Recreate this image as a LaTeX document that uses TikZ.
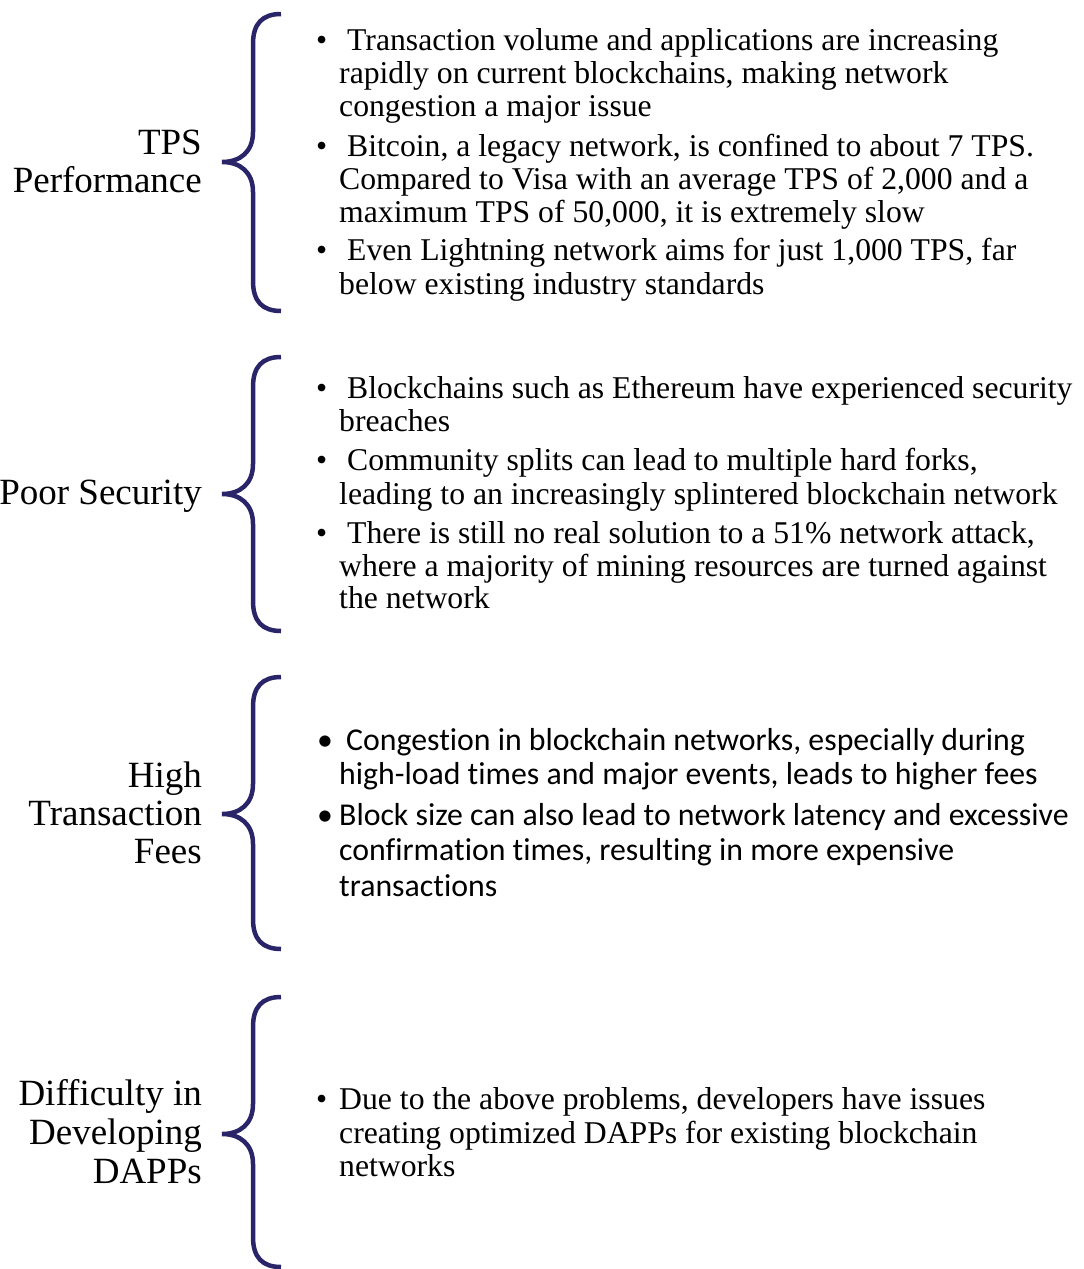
\documentclass[tikz,border=0pt]{standalone}
\usepackage{fontspec}
\setmainfont[Ligatures=NoCommon]{Liberation Serif}
\newfontfamily\carlito[Ligatures=NoCommon]{Carlito}
\definecolor{bracecol}{HTML}{2A2468}
\newcommand\cbrace[3]{%
  \draw[bracepath] (281,#1) .. controls (262,#1) and (253,#1+10) .. (253,#1+30)
    -- (253,#2-30) .. controls (253,#2-10) and (240,#2) .. (222,#2)
    .. controls (240,#2) and (253,#2+10) .. (253,#2+30)
    -- (253,#3-30) .. controls (253,#3-10) and (262,#3) .. (281,#3);}
\tikzset{
  lbl/.style={anchor=base east, inner sep=0pt, font=\fontsize{37}{38}\selectfont},
  txt/.style={anchor=base west, inner sep=0pt, font=\fontsize{31.7}{33}\selectfont},
  ctxt/.style={anchor=base west, inner sep=0pt, font=\carlito\fontsize{31.8}{35}\selectfont},
  bul/.style={anchor=base west, inner sep=0pt, font=\fontsize{31.7}{33}\selectfont},
  cbul/.style={anchor=base west, inner sep=0pt, font=\carlito\fontsize{31.8}{35}\selectfont},
  bracepath/.style={draw=bracecol, line width=4.5pt}
}
\begin{document}
\begin{tikzpicture}[x=1pt,y=-1pt]
\useasboundingbox (0,0) rectangle (1084,1269);
% ---------- Section 1 ----------
\cbrace{14}{162}{311}
\node[lbl] (l1a) at (202,154) {TPS};
\node[lbl] (l1b) at (202,192) {Performance};
\node[bul] (b11) at (316,50) {•};
\node[txt] (t11a) at (347,50) {Transaction volume and applications are increasing};
\node[txt] (t11b) at (339,83) {rapidly on current blockchains, making network};
\node[txt] (t11c) at (339,116) {congestion a major issue};
\node[bul] (b12) at (316,156) {•};
\node[txt] (t12a) at (347,156) {Bitcoin, a legacy network, is confined to about 7 TPS.};
\node[txt] (t12b) at (339,189) {Compared to Visa with an average TPS of 2,000 and a};
\node[txt] (t12c) at (339,222) {maximum TPS of 50,000, it is extremely slow};
\node[bul] (b13) at (316,260) {•};
\node[txt] (t13a) at (347,260) {Even Lightning network aims for just 1,000 TPS, far};
\node[txt] (t13b) at (339,294) {below existing industry standards};
% ---------- Section 2 ----------
\cbrace{357}{494}{631}
\node[lbl] (l2a) at (202,504) {Poor Security};
\node[bul] (b21) at (316,398) {•};
\node[txt] (t21a) at (347,398) {Blockchains such as Ethereum have experienced security};
\node[txt] (t21b) at (339,431) {breaches};
\node[bul] (b22) at (316,470) {•};
\node[txt] (t22a) at (347,470) {Community splits can lead to multiple hard forks,};
\node[txt] (t22b) at (339,504) {leading to an increasingly splintered blockchain network};
\node[bul] (b23) at (316,543) {•};
\node[txt] (t23a) at (347,543) {There is still no real solution to a 51\% network attack,};
\node[txt] (t23b) at (339,576) {where a majority of mining resources are turned against};
\node[txt] (t23c) at (339,608) {the network};
% ---------- Section 3 ----------
\cbrace{677}{814}{949}
\node[lbl] (l3a) at (202,787) {High};
\node[lbl] (l3b) at (202,825) {Transaction};
\node[lbl] (l3c) at (202,863) {Fees};
\node[cbul] (b31) at (317,750) {•};
\node[ctxt] (t31a) at (346,750) {Congestion in blockchain networks, especially during};
\node[ctxt] (t31b) at (339,784) {high-load times and major events, leads to higher fees};
\node[cbul] (b32) at (317,825) {•};
\node[ctxt] (t32a) at (339,825) {Block size can also lead to network latency and excessive};
\node[ctxt] (t32b) at (339,860) {confirmation times, resulting in more expensive};
\node[ctxt] (t32c) at (339,896) {transactions};
% ---------- Section 4 ----------
\cbrace{997}{1134}{1267}
\node[lbl] (l4a) at (202,1105) {Difficulty in};
\node[lbl] (l4b) at (202,1144) {Developing};
\node[lbl] (l4c) at (202,1183) {DAPPs};
\node[bul] (b41) at (316,1109) {•};
\node[txt] (t41a) at (339,1109) {Due to the above problems, developers have issues};
\node[txt] (t41b) at (339,1143) {creating optimized DAPPs for existing blockchain};
\node[txt] (t41c) at (339,1176) {networks};
\end{tikzpicture}
\end{document}
